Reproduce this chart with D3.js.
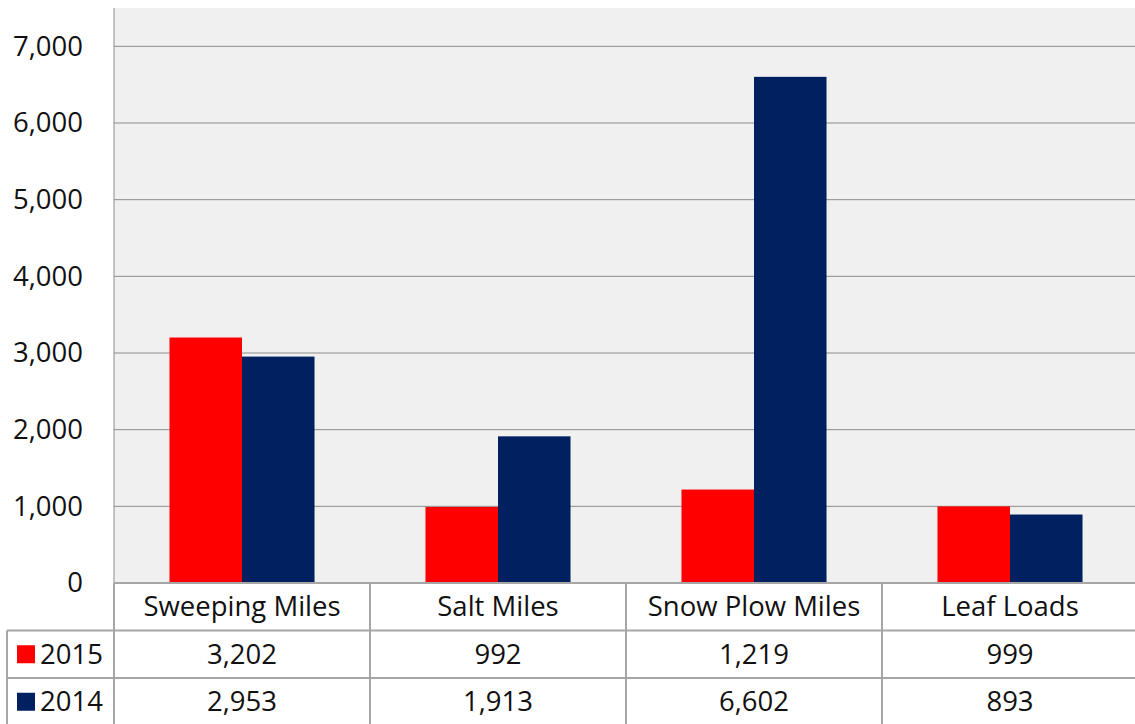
<!DOCTYPE html>
<html>
<head>
<meta charset="utf-8">
<script src="https://cdn.jsdelivr.net/npm/d3@7"></script>
<style>
  body { margin: 0; background: #fff; }
  text { font-family: "Open Sans", sans-serif; fill: #111; }
</style>
</head>
<body>
<svg id="svg1" width="1135" height="724"></svg>
<script>
var categories = ['Sweeping Miles', 'Salt Miles', 'Snow Plow Miles', 'Leaf Loads'];
var seriesNames = ['2015', '2014'];
var values2015 = [3202, 992, 1219, 999];
var values2014 = [2953, 1913, 6602, 893];
var yTicks = [0, 1000, 2000, 3000, 4000, 5000, 6000, 7000];

var colors = {'2015': '#ff0000', '2014': '#002060'};

var svg = d3.select('#svg1');

var plot = {l: 114, r: 1138, t: 8, b: 583};
var rowH = 47.5;
var fontSize = '27.5px';

var xScale = d3.scaleBand()
    .domain(categories)
    .range([plot.l, plot.r]);

var seriesScale = d3.scaleBand()
    .domain(seriesNames)
    .range([0, xScale.bandwidth()])
    .paddingOuter(0.765);

var yScale = d3.scaleLinear()
    .domain([0, 7500])
    .range([plot.b, plot.t]);

var fmt = d3.format(',');

// plot background
svg.append('rect')
    .attr('x', plot.l)
    .attr('y', plot.t)
    .attr('width', plot.r - plot.l)
    .attr('height', plot.b - plot.t)
    .style('fill', '#f0f0f0');

// gridlines
svg.append('g')
    .selectAll('line')
    .data(yTicks.slice(1))
    .enter()
    .append('line')
      .attr('x1', plot.l)
      .attr('x2', plot.r)
      .attr('y1', function(d) { return yScale(d); })
      .attr('y2', function(d) { return yScale(d); })
      .style('stroke', '#8c8c8c')
      .style('stroke-width', 1);

// y axis
var yAxis = svg.append('g')
    .attr('class', 'y_axis')
    .attr('transform', 'translate(' + plot.l + ',0)')
    .call(d3.axisLeft(yScale).tickValues(yTicks).tickFormat(fmt).tickSize(0).tickPadding(31));
yAxis.select('.domain').remove();
yAxis.selectAll('text')
    .style('font-size', fontSize)
    .style('font-family', '"Open Sans", sans-serif')
    .style('fill', '#111');

svg.append('line')
    .attr('x1', plot.l).attr('x2', plot.l)
    .attr('y1', plot.t).attr('y2', plot.b)
    .style('stroke', '#8c8c8c');

// bars
var data = categories.map(function(c, i) {
    return {cat: c, vals: [{s: '2015', v: values2015[i]}, {s: '2014', v: values2014[i]}]};
});

var groups = svg.selectAll('.bars')
    .data(data)
    .enter()
    .append('g')
      .attr('class', 'bars')
      .attr('transform', function(d) { return 'translate(' + xScale(d.cat) + ',0)'; });

groups.selectAll('rect')
    .data(function(d) { return d.vals; })
    .enter()
    .append('rect')
      .attr('x', function(d) { return seriesScale(d.s); })
      .attr('y', function(d) { return yScale(d.v); })
      .attr('width', seriesScale.bandwidth())
      .attr('height', function(d) { return plot.b - yScale(d.v); })
      .style('fill', function(d) { return colors[d.s]; });

// data table
var table = svg.append('g').attr('class', 'data_table');
var lineColor = '#a6a6a6';
var tableLeft = 7;

table.append('rect')
    .attr('x', plot.l).attr('y', plot.b)
    .attr('width', plot.r - plot.l).attr('height', 724 - plot.b)
    .style('fill', '#fff');

[plot.b, plot.b + rowH, plot.b + 2 * rowH].forEach(function(y, i) {
    table.append('line')
        .attr('x1', i === 0 ? plot.l : tableLeft)
        .attr('x2', plot.r)
        .attr('y1', y).attr('y2', y)
        .style('stroke', lineColor).style('stroke-width', 2);
});

categories.forEach(function(c, i) {
    table.append('line')
        .attr('x1', xScale(c)).attr('x2', xScale(c))
        .attr('y1', plot.b).attr('y2', 724)
        .style('stroke', lineColor).style('stroke-width', 2);
});
table.append('line')
    .attr('x1', tableLeft).attr('x2', tableLeft)
    .attr('y1', plot.b + rowH).attr('y2', 724)
    .style('stroke', lineColor).style('stroke-width', 2);

table.selectAll('.cat_label')
    .data(categories)
    .enter()
    .append('text')
      .attr('class', 'cat_label')
      .attr('x', function(d) { return xScale(d) + xScale.bandwidth() / 2; })
      .attr('y', plot.b + rowH / 2)
      .attr('dy', '0.35em')
      .attr('text-anchor', 'middle')
      .style('font-size', fontSize)
      .text(function(d) { return d; });

var rows = [{s: '2015', vals: values2015}, {s: '2014', vals: values2014}];

rows.forEach(function(r, ri) {
    var cy = plot.b + rowH * (ri + 1) + rowH / 2;
    table.append('rect')
        .attr('x', 17).attr('y', cy - 9)
        .attr('width', 18).attr('height', 18)
        .style('fill', colors[r.s]);
    table.append('text')
        .attr('x', 40).attr('y', cy)
        .attr('dy', '0.35em')
        .style('font-size', fontSize)
        .text(r.s);
    table.selectAll('.val' + ri)
        .data(r.vals)
        .enter()
        .append('text')
          .attr('x', function(d, i) { return xScale(categories[i]) + xScale.bandwidth() / 2; })
          .attr('y', cy)
          .attr('dy', '0.35em')
          .attr('text-anchor', 'middle')
          .style('font-size', fontSize)
          .text(function(d) { return fmt(d); });
});
</script>
</body>
</html>
